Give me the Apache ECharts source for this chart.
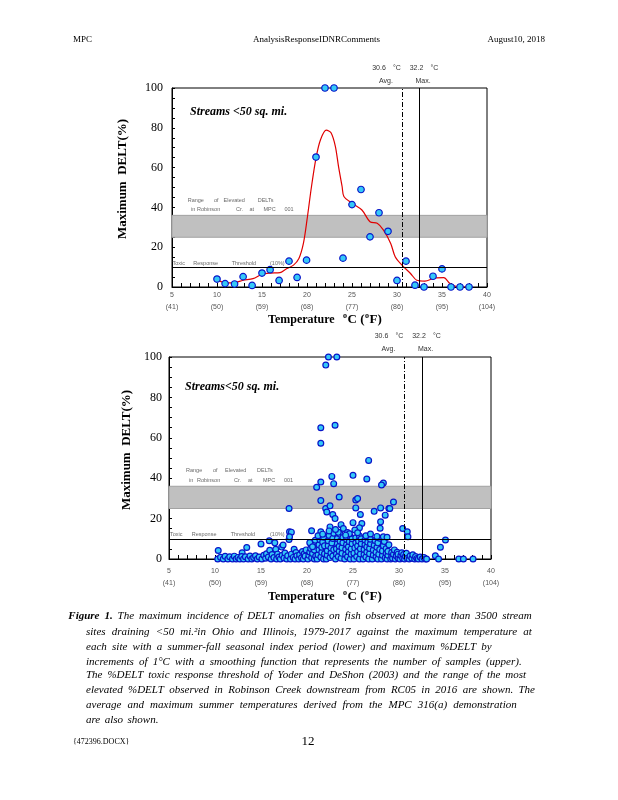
<!DOCTYPE html>
<html><head><meta charset="utf-8">
<script src="https://cdn.jsdelivr.net/npm/echarts@6/dist/echarts.min.js"></script>
<style>html,body{margin:0;padding:0;background:#fff}#c{width:618px;height:800px}</style>
</head><body><div id="c"></div><script>
// ---------- data ----------
const tickC = [5,10,15,20,25,30,35,40];
const tickF = ['(41)','(50)','(59)','(68)','(77)','(86)','(95)','(104)'];
const avgTemp = 30.6;          // label value
const maxTempLabel = 32.2;     // label value
const maxTempLine = 32.5;      // where the solid line is drawn
const threshold = 10;
const rangeLow = 25, rangeHigh = 36;

// upper panel: max %DELT per 1 C increment
const topPoints = [[10.0,4],[10.9,1.7],[11.95,1.5],[12.9,5.2],[13.9,0.8],[15.0,7],[15.9,8.7],[16.9,3.3],
 [18.0,13],[18.9,4.8],[19.95,13.5],[21.0,65.3],[22.0,100],[23.0,100],[24.0,14.5],[25.0,41.4],[26.0,49],
 [27.0,25.2],[28.0,37.3],[29.0,28],[30.0,3.3],[31.0,13],[32.0,0.9],[33.0,0],[34.0,5.4],[35.0,9.1],
 [36.0,0],[37.0,0],[38.0,0]];
// upper panel: smoothing function
const smoothCurve = [[10.0,3.6],[10.9,2.2],[11.8,2.1],[12.9,3.4],[14.0,4.2],[15.0,6.4],[15.9,7.0],[17.0,7.2],
 [17.6,8.8],[18.5,11],[19.1,14.3],[19.6,21.9],[20.0,33.7],[20.5,50.5],[21.0,64.8],[21.5,74],[22.15,78.8],
 [22.67,77.5],[23.15,70.7],[23.5,60.6],[23.9,50.5],[24.1,45.5],[25.0,42.1],[26.1,38.7],[27.0,32.8],
 [27.8,32],[28.5,28.6],[29.3,21.9],[29.8,15.2],[30.55,11],[31.5,6.8],[32.2,3.4],[33.1,3],[34.2,4.5],
 [35.2,4.7],[35.9,1.7],[36.85,0],[38.0,0]];
// lower panel: all sites
const lowerPoints = [
 [10.3,0],[10.35,4.2],[10.6,0.9],[10.9,0],[11.1,1.3],[11.4,0],[11.6,1.1],[11.9,0],[12.1,1.4],[12.3,0],
 [12.5,0.8],[12.7,0],[12.95,3.1],[12.9,1.2],
 [13.1,0],[13.3,1.1],[13.45,5.7],[13.6,0],[13.8,1.5],[14.0,0],[14.2,0.8],[14.4,1.6],[14.6,0],[14.8,1],
 [15.0,7.4],[15.1,0],[15.3,1.8],[15.5,0.4],[15.6,2.6],[15.8,1],[15.9,9],[15.95,4.3],
 [16.1,0],[16.2,2.2],[16.4,0.7],[16.5,8],[16.6,4.8],[16.7,0],[16.8,2.4],[16.95,1],[17.1,0],[17.25,5.9],
 [17.3,1.8],[17.4,6.9],[17.5,0.5],[17.6,3],[17.8,0],[17.9,1.6],
 [18.05,9.7],[18.1,13.5],[18.3,13.3],[18.05,25],[18.1,11],[18.2,0],[18.3,2.4],[18.5,0.8],[18.6,4.8],
 [18.7,0],[18.8,3.2],[18.9,1.6],[19.1,0],[19.2,2.1],[19.4,0.6],[19.5,3.7],[19.6,0],[19.7,2.6],[19.8,1.4],[19.9,4.5],
 [20.1,0],[20.2,1.8],[20.3,3.5],[20.4,5.2],[20.5,0.6],[20.5,14],[20.6,2.7],[20.7,7.8],[20.8,0],[20.8,4.4],
 [20.9,9.3],[20.95,1.5],[20.3,8.1],[20.6,6.1],
 [21.05,35.5],[21.5,38.1],[21.5,28.9],[21.5,65],[21.5,57.3],[21.5,13.5],[21.1,0],[21.2,2.1],[21.3,4.6],[21.3,7],
 [21.4,9.5],[21.5,1],[21.6,3.3],[21.6,5.8],[21.7,8.4],[21.8,0],[21.8,10.8],[21.9,2.6],[21.9,6.5],
 [21.2,11.5],[21.7,12.3],[22.03,25],
 [22.04,96],[22.33,100],[22.7,40.9],[22.9,37.3],[22.5,26.3],[22.15,23.3],[22.8,22],[22.5,15.9],[22.1,0],
 [22.2,1.9],[22.2,4.1],[22.3,6.6],[22.3,9],[22.4,11.6],[22.5,0.7],[22.6,3],[22.6,5.4],[22.7,7.9],
 [22.8,10.2],[22.8,1.5],[22.9,4.6],[22.9,12.8],[22.4,13.9],
 [23.24,100],[23.05,66.2],[23.5,30.7],[23.05,20],[23.7,17],[23.95,15.1],[23.1,0],[23.2,2.5],[23.2,5.1],
 [23.3,7.6],[23.3,10.1],[23.4,1.2],[23.5,3.8],[23.5,6.3],[23.6,8.8],[23.6,12.2],[23.7,0.4],[23.8,2.8],
 [23.8,5.6],[23.9,8.1],[23.9,10.6],[23.4,13.2],[23.1,14.6],
 [24.4,13.1],[24.1,0],[24.2,2.2],[24.2,4.8],[24.3,7.2],[24.3,9.7],[24.4,1.1],[24.5,3.6],[24.5,6.1],
 [24.6,8.6],[24.7,0],[24.7,11.1],[24.8,2.4],[24.8,5],[24.9,7.5],[24.9,10],[24.6,12.5],[24.2,11.8],
 [25.0,41.4],[25.3,29.2],[25.5,29.9],[25.3,25.3],[25.8,22],[25.0,18],[25.96,17.6],[25.7,15.5],[25.2,14.3],
 [25.1,0],[25.1,2.9],[25.2,5.5],[25.3,8],[25.3,10.5],[25.4,1.2],[25.5,3.7],[25.5,6.4],[25.6,8.9],
 [25.7,0],[25.7,11.4],[25.8,2.5],[25.8,5.1],[25.9,7.6],[25.9,10],[25.5,13],
 [26.5,39.6],[26.7,48.8],[26.1,0],[26.2,2.2],[26.2,4.7],[26.3,7.1],[26.3,9.4],[26.4,1],[26.5,3.5],
 [26.5,6],[26.6,8.3],[26.7,0],[26.8,2.6],[26.8,5.2],[26.9,7.5],[26.9,9.8],[26.4,11.5],[26.9,12.4],
 [27.3,23.6],[27.95,15.2],[27.1,0],[27.2,2],[27.2,4.4],[27.3,6.8],[27.4,9.1],[27.5,1.1],[27.5,3.4],
 [27.6,5.8],[27.7,8],[27.7,0],[27.8,2.4],[27.9,4.7],[27.9,10.3],[27.6,11.2],
 [28.0,25.3],[28.3,37.6],[28.1,36.6],[28.0,18.4],[28.5,21.7],[28.9,25],[28.1,0],[28.2,1.8],[28.2,4],
 [28.3,6.5],[28.4,8.7],[28.5,0.6],[28.6,2.9],[28.6,5.2],[28.7,0],[28.8,1.9],[28.8,3.8],[28.9,7],
 [28.3,11],[28.7,10.8],
 [29.0,25],[29.4,28.2],[29.1,0],[29.2,1.4],[29.2,3.2],[29.3,0.4],[29.4,2.4],[29.5,4.5],[29.6,0],
 [29.7,1.6],[29.8,3.3],[29.9,0.5],[29.9,2.4],
 [30.4,15.1],[30.9,13.5],[30.97,11],[30.1,0],[30.2,1.7],[30.3,3.1],[30.4,0.4],[30.5,2.2],[30.6,0],
 [30.7,1.4],[30.8,2.8],[30.9,0.3],
 [31.1,0],[31.2,1.5],[31.4,0.4],[31.5,2.1],[31.7,0],[31.8,1.2],[31.95,0.3],
 [32.1,0],[32.3,1],[32.5,0],[32.7,0.8],[32.9,0],[33.0,0],
 [33.95,1.6],[34.3,0],[34.5,5.8],[35.05,9.4],[36.5,0],[37.0,0],[38.05,0]
];

const captionLines = [
 'Figure 1. The maximum incidence of DELT anomalies on fish observed at more than 3500 stream',
 'sites draining <50 mi.²in Ohio and Illinois, 1979-2017 against the maximum temperature at',
 'each site with a summer-fall seasonal index period (lower) and maximum %DELT by',
 'increments of 1°C with a smoothing function that represents the number of samples (upper).',
 'The %DELT toxic response threshold of Yoder and DeShon (2003) and the range of the most',
 'elevated %DELT observed in Robinson Creek downstream from RC05 in 2016 are shown. The',
 'average and maximum summer temperatures derived from the MPC 316(a) demonstration',
 'are also shown.'
];

// ---------- styles / layout ----------
const SERIF = '"Liberation Serif", "Times New Roman", serif';
const SANS = '"Liberation Sans", Arial, sans-serif';
const FILL = '#35c9f7', EDGE = '#0814c8';
const ctx = document.createElement('canvas').getContext('2d');
function tw(t, font){ ctx.font = font; return ctx.measureText(t).width; }

const chart = echarts.init(document.getElementById('c'), null, {renderer:'canvas', width:618, height:800});

function xAx(gi, margin){
  return {type:'value', gridIndex:gi, min:5, max:40, interval:1,
    axisLine:{show:true, onZero:false, lineStyle:{color:'#000', width:1}},
    axisTick:{show:true, inside:true, length:4, lineStyle:{color:'#000', width:1}},
    axisLabel:{margin:margin, fontSize:7, lineHeight:12, color:'#555', fontFamily:SANS,
      formatter:v=>{const i=tickC.indexOf(v); return i<0?'':tickC[i]+'\n'+tickF[i];}},
    splitLine:{show:false}};
}
function yAx(gi, margin){
  return {type:'value', gridIndex:gi, min:0, max:100, interval:5,
    axisLine:{show:true, onZero:false, lineStyle:{color:'#000', width:1}},
    axisTick:{show:true, inside:true, length:3, lineStyle:{color:'#000', width:1}},
    axisLabel:{margin:margin, fontSize:12, color:'#000', fontFamily:SERIF,
      formatter:v=>(v%20===0?String(v):'')},
    splitLine:{show:false}};
}
function markers(){
  return {
    markArea:{silent:true, itemStyle:{color:'#c0c0c0', borderColor:'#a2a2a2', borderWidth:1},
      data:[[{yAxis:rangeLow},{yAxis:rangeHigh}]]},
    markLine:{silent:true, symbol:'none', label:{show:false}, animation:false,
      lineStyle:{color:'#000', width:1, type:'solid'},
      data:[{yAxis:threshold},
            {xAxis:avgTemp, lineStyle:{type:[5,2,1,2], color:'#000', width:1}},
            {xAxis:maxTempLine}]}
  };
}

// ---------- text graphics ----------
const G = [];
function txt(t, x, y, font, opts){
  opts = opts || {};
  const el = {type:'text', x:x, y:y, z:100, silent:true,
    style:{text:t, font:font, fill:opts.fill||'#000', align:opts.align||'left', verticalAlign:opts.va||'middle'}};
  if (opts.rotation) el.rotation = opts.rotation;
  G.push(el);
}
// header & footer
txt('MPC', 73, 40, '9px '+SERIF);
txt('AnalysisResponseIDNRComments', 253, 40, '9px '+SERIF);
txt('August10, 2018', 545, 40, '9px '+SERIF, {align:'right'});
txt('{472396.DOCX}', 73, 742, '8px '+SERIF);
txt('12', 308, 742, '13px '+SERIF, {align:'center'});

function panelText(p){
  const f7 = '7px '+SANS;
  txt(String(avgTemp), p.a1, p.ty1, f7, {align:'center', fill:'#333'});
  txt('°C', p.a1+18, p.ty1, f7, {align:'center', fill:'#333'});
  txt('Avg.', p.a1+7, p.ty2, f7, {align:'center', fill:'#333'});
  txt(String(maxTempLabel), p.m1, p.ty1, f7, {align:'center', fill:'#333'});
  txt('°C', p.m1+18, p.ty1, f7, {align:'center', fill:'#333'});
  txt('Max.', p.m1+6.5, p.ty2, f7, {align:'center', fill:'#333'});
  txt(p.streams, p.sx, p.sy, 'italic bold 12px '+SERIF);
  const f5 = '5.5px '+SANS;
  p.words.forEach(w=>txt(w[0], w[1], w[2], f5, {fill:'#6a6a6a'}));
  txt('Maximum  DELT(%)', p.yx, p.yy, 'bold 13px '+SERIF, {align:'center', rotation:Math.PI/2});
  const fb = 'bold 13px '+SERIF, fs = 'bold 8px '+SERIF;
  txt('Temperature', p.xt, p.xy, 'bold 12px '+SERIF);
  let x = p.xt + 75;
  [['o',fs,-4.5],['C (',fb,0],['o',fs,-4.5],['F)',fb,0]].forEach(s=>{
    txt(s[0], x, p.xy+s[2], s[1]); x += tw(s[0], s[1]) + 0.5;
  });
}
panelText({a1:379, m1:416.5, ty1:68, ty2:81, streams:'Streams <50 sq. mi.', sx:190, sy:112,
  yx:123, yy:179, xt:268, xy:320,
  words:[['Range',187.7,200],['of',214,200],['Elevated',223.5,200],['DELTs',257.7,200],
         ['in',191,209.5],['Robinson',197,209.5],['Cr.',236,209.5],['at',249.5,209.5],['MPC',263.5,209.5],['001',284.5,209.5],
         ['Toxic',172.5,263],['Response',193.3,263],['Threshold',231.7,263],['(10%)',270,263]]});
panelText({a1:381.5, m1:419, ty1:336.5, ty2:349, streams:'Streams<50 sq. mi.', sx:185, sy:387,
  yx:127, yy:450, xt:268, xy:597,
  words:[['Range',186,470],['of',213,470],['Elevated',225,470],['DELTs',257,470],
         ['in',189,480],['Robinson',197,480],['Cr.',234,480],['at',248,480],['MPC',263,480],['001',284,480],
         ['Toxic',170,534],['Response',191.7,534],['Threshold',230.7,534],['(10%)',270,534]]});

// caption (justified lines)
const capStarts = [68.3,86,86,86,86,86,86,86];
const capEnds = [531.7,531.7,491.7,521.7,526,535,516.7,null];
const capY = [616,631.7,646.7,661.7,675.5,690.5,705.5,720];
const FI = 'italic 11px '+SERIF, FBI = 'italic bold 11px '+SERIF;
captionLines.forEach((line, li)=>{
  const words = line.split(' ');
  const fonts = words.map((w,i)=> (li===0 && i<2) ? FBI : FI);
  const widths = words.map((w,i)=>tw(w, fonts[i]));
  const sum = widths.reduce((a,b)=>a+b,0);
  const gap = capEnds[li] ? (capEnds[li]-capStarts[li]-sum)/(words.length-1) : 4.5;
  let x = capStarts[li];
  words.forEach((w,i)=>{ txt(w, x, capY[li], fonts[i]); x += widths[i]+gap; });
});

// ---------- option ----------
const option = {
  backgroundColor:'#fff',
  animation:false,
  grid:[
    {left:172, top:88, width:315, height:199, show:true, borderColor:'#000', borderWidth:1, backgroundColor:'transparent'},
    {left:169, top:357, width:322, height:202, show:true, borderColor:'#000', borderWidth:1, backgroundColor:'transparent'}
  ],
  xAxis:[xAx(0,2), xAx(1,6)],
  yAxis:[yAx(0,9), yAx(1,7)],
  series:[
    Object.assign({type:'line', xAxisIndex:0, yAxisIndex:0, data:[], z:1, silent:true}, markers()),
    {type:'line', xAxisIndex:0, yAxisIndex:0, data:smoothCurve, smooth:0.3, showSymbol:false, z:2,
      lineStyle:{color:'#e00000', width:1.2}, silent:true},
    {type:'scatter', xAxisIndex:0, yAxisIndex:0, data:topPoints, symbol:'circle', symbolSize:6.5, z:3,
      itemStyle:{color:FILL, borderColor:EDGE, borderWidth:1.2, opacity:1}, clip:false},
    Object.assign({type:'line', xAxisIndex:1, yAxisIndex:1, data:[], z:1, silent:true}, markers()),
    {type:'scatter', xAxisIndex:1, yAxisIndex:1, data:lowerPoints, symbol:'circle', symbolSize:5.8, z:3,
      itemStyle:{color:FILL, borderColor:EDGE, borderWidth:1.2, opacity:1}, clip:false}
  ],
  graphic:G
};
chart.setOption(option);
</script></body></html>
